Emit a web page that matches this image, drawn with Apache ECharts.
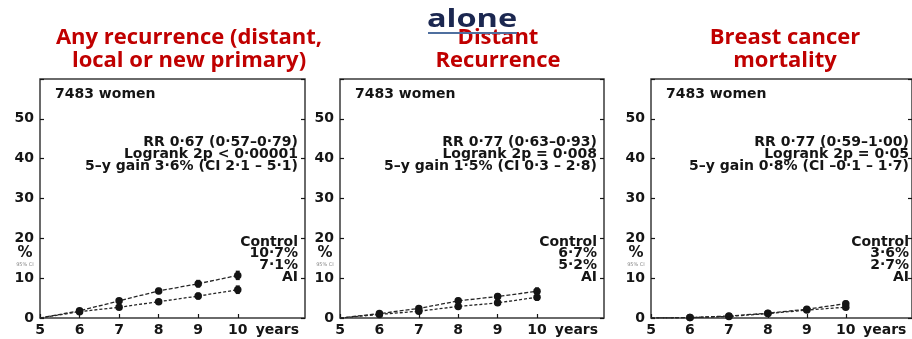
<!DOCTYPE html>
<html>
<head>
<meta charset="utf-8">
<script src="https://cdn.jsdelivr.net/npm/echarts@6/dist/echarts.min.js"></script>
<style>
  html, body { margin: 0; padding: 0; background: #ffffff; }
  #chart { width: 912px; height: 339px; }
</style>
</head>
<body>
<div id="chart"></div>
<script>
// Cumulative risk (%) by year of follow-up, Control vs AI
const years = [5, 6, 7, 8, 9, 10];
const xTickLabels = ['5', '6', '7', '8', '9', '10'];
const yTickLabels = ['0', '10', '20', '30', '40', '50'];

// Any recurrence (distant, local or new primary)
const anyControl     = [0, 1.8, 4.3, 6.8, 8.6, 10.7];
const anyControlLow  = [0, 1.4, 3.8, 6.2, 7.8, 9.7];
const anyControlHigh = [0, 2.2, 4.8, 7.4, 9.4, 11.7];
const anyAI          = [0, 1.6, 2.7, 4.1, 5.5, 7.1];
const anyAILow       = [0, 1.2, 2.2, 3.6, 4.8, 6.2];
const anyAIHigh      = [0, 2.0, 3.2, 4.6, 6.2, 8.0];

// Distant recurrence
const distControl     = [0, 1.1, 2.4, 4.3, 5.4, 6.7];
const distControlLow  = [0, 0.8, 1.9, 3.7, 4.7, 5.9];
const distControlHigh = [0, 1.4, 2.9, 4.9, 6.1, 7.5];
const distAI          = [0, 0.9, 1.7, 2.9, 3.8, 5.2];
const distAILow       = [0, 0.6, 1.3, 2.4, 3.2, 4.5];
const distAIHigh      = [0, 1.2, 2.1, 3.4, 4.4, 5.9];

// Breast cancer mortality
const mortControl     = [0, 0.1, 0.5, 1.2, 2.2, 3.6];
const mortControlLow  = [0, 0.0, 0.3, 0.9, 1.7, 3.0];
const mortControlHigh = [0, 0.2, 0.7, 1.5, 2.7, 4.2];
const mortAI          = [0, 0.1, 0.4, 1.1, 2.0, 2.7];
const mortAILow       = [0, 0.0, 0.2, 0.8, 1.6, 2.2];
const mortAIHigh      = [0, 0.2, 0.6, 1.4, 2.4, 3.2];

const panelTitles = [
  ['Any recurrence (distant,', 'local or new primary)'],
  ['Distant', 'Recurrence'],
  ['Breast cancer', 'mortality']
];
const cohortLabel = '7483 women';
const statLines = [
  ['RR 0·67 (0·57–0·79)', 'Logrank 2p < 0·00001', '5–y gain 3·6% (CI 2·1 – 5·1)'],
  ['RR 0·77 (0·63–0·93)', 'Logrank 2p = 0·008', '5–y gain 1·5% (CI 0·3 – 2·8)'],
  ['RR 0·77 (0·59–1·00)', 'Logrank 2p = 0·05', '5–y gain 0·8% (CI –0·1 – 1·7)']
];
const legendLines = [
  ['Control', '10·7%', '7·1%', 'AI'],
  ['Control', '6·7%', '5·2%', 'AI'],
  ['Control', '3·6%', '2·7%', 'AI']
];

const panels = [
  { c: anyControl, cl: anyControlLow, ch: anyControlHigh, a: anyAI, al: anyAILow, ah: anyAIHigh },
  { c: distControl, cl: distControlLow, ch: distControlHigh, a: distAI, al: distAILow, ah: distAIHigh },
  { c: mortControl, cl: mortControlLow, ch: mortControlHigh, a: mortAI, al: mortAILow, ah: mortAIHigh }
];

// Layout
const grids = [
  { left: 40, top: 79, width: 265, height: 239 },
  { left: 340, top: 79, width: 264, height: 239 },
  { left: 651, top: 79, width: 265, height: 239 }
];
const titleCenters = [189, 498, 785];

const ink = '#151515';
const tickFont = 'DejaVu Sans';
const redTitle = '#c00000';

const xAxes = [], yAxes = [], series = [], graphics = [];

grids.forEach((g, i) => {
  xAxes.push({
    type: 'value', gridIndex: i, min: 5, max: 11.7, interval: 1,
    axisLine: { show: false },
    axisTick: { show: true, inside: true, length: 4, customValues: years, lineStyle: { color: ink, width: 1.2 } },
    splitLine: { show: false },
    axisLabel: {
      customValues: years.concat([11]),
      formatter: v => (v === 11 ? 'years' : xTickLabels[years.indexOf(v)]),
      color: ink, fontFamily: tickFont, fontWeight: 'bold', fontSize: 14, margin: 5
    }
  });
  yAxes.push({
    type: 'value', gridIndex: i, min: 0, max: 60, interval: 10,
    axisLine: { show: false },
    axisTick: { show: true, inside: true, length: 4, lineStyle: { color: ink, width: 1.2 } },
    splitLine: { show: false },
    axisLabel: {
      customValues: [0, 10, 20, 30, 40, 50],
      formatter: v => yTickLabels[v / 10],
      color: ink, fontFamily: tickFont, fontWeight: 'bold', fontSize: 14, margin: 6
    }
  });
});
// mirrored y ticks on the right edge of each panel
grids.forEach((g, i) => {
  yAxes.push({
    type: 'value', gridIndex: i, position: 'right', min: 0, max: 60, interval: 10,
    axisLine: { show: false },
    axisTick: { show: true, inside: true, length: 4, lineStyle: { color: ink, width: 1.2 } },
    axisLabel: { show: false },
    splitLine: { show: false }
  });
});

function lineData(vals) {
  return years.map((yr, k) => (k === 0
    ? { value: [yr, vals[k]], symbol: 'none' }
    : { value: [yr, vals[k]] }));
}
function barData(lo, hi) {
  return years.slice(1).map((yr, k) => [yr, lo[k + 1], hi[k + 1]]);
}
function renderErrorBar(params, api) {
  const x = api.value(0);
  const top = api.coord([x, api.value(2)]);
  const bot = api.coord([x, api.value(1)]);
  const cap = 2;
  const st = { stroke: ink, lineWidth: 1.5 };
  return {
    type: 'group',
    children: [
      { type: 'line', shape: { x1: top[0], y1: top[1], x2: bot[0], y2: bot[1] }, style: st },
      { type: 'line', shape: { x1: top[0] - cap, y1: top[1], x2: top[0] + cap, y2: top[1] }, style: st },
      { type: 'line', shape: { x1: bot[0] - cap, y1: bot[1], x2: bot[0] + cap, y2: bot[1] }, style: st }
    ]
  };
}

panels.forEach((p, i) => {
  [['Control', p.c, p.cl, p.ch, [4, 2]], ['AI', p.a, p.al, p.ah, [3, 2]]].forEach(([name, v, lo, hi, dash]) => {
    series.push({
      name: name, type: 'line', xAxisIndex: i, yAxisIndex: i,
      data: lineData(v), symbol: 'circle', symbolSize: 7.5, showSymbol: true,
      lineStyle: { color: '#262626', width: 1.3, type: dash },
      itemStyle: { color: ink }, z: 3, animation: false
    });
    series.push({
      name: name + ' CI', type: 'custom', xAxisIndex: i, yAxisIndex: i,
      data: barData(lo, hi), renderItem: renderErrorBar, z: 4, animation: false
    });
  });

  const g = grids[i];
  const right = g.left + g.width - 7;
  // panel titles
  panelTitles[i].forEach((t, k) => {
    graphics.push({
      type: 'text', z: 10, x: titleCenters[i], y: k === 0 ? 38 : 61,
      style: {
        text: t, x: 0, y: 0,
        fill: redTitle, font: 'bold 22px "Open Sans"',
        align: 'center', verticalAlign: 'middle'
      }
    });
  });
  graphics.push({
    type: 'text', z: 10,
    style: { text: cohortLabel, x: g.left + 15, y: 94, fill: ink,
      font: 'bold 14px "DejaVu Sans"', align: 'left', verticalAlign: 'middle' }
  });
  statLines[i].forEach((t, k) => {
    graphics.push({
      type: 'text', z: 10,
      style: { text: t, x: right, y: 142 + k * 12, fill: ink,
        font: 'bold 14px "DejaVu Sans"', align: 'right', verticalAlign: 'middle' }
    });
  });
  legendLines[i].forEach((t, k) => {
    graphics.push({
      type: 'text', z: 10,
      style: { text: t, x: right, y: 242 + k * 11.7, fill: ink,
        font: 'bold 14px "DejaVu Sans"', align: 'right', verticalAlign: 'middle' }
    });
  });
  // y-axis unit
  graphics.push({
    type: 'text', z: 10,
    style: { text: '%', x: g.left - 15, y: 253, fill: ink,
      font: 'bold 15px "DejaVu Sans"', align: 'center', verticalAlign: 'middle' }
  });
  graphics.push({
    type: 'text', z: 10,
    style: { text: '95% CI', x: g.left - 15, y: 265, fill: '#888',
      font: '5px "DejaVu Sans"', align: 'center', verticalAlign: 'middle' }
  });
});

// heading word above the middle panel
graphics.push({
  type: 'text', z: 10, x: 472, y: 20, scaleX: 1.3,
  style: { text: 'alone', x: 0, y: 0, fill: '#1b2750',
    font: 'bold 25px "Open Sans"', align: 'center', verticalAlign: 'middle' }
});
graphics.push({
  type: 'line', z: 10,
  shape: { x1: 428, y1: 33, x2: 517, y2: 33 },
  style: { stroke: '#4f6f9f', lineWidth: 2 }
});

const chart = echarts.init(document.getElementById('chart'), null, { renderer: 'canvas' });
chart.setOption({
  backgroundColor: '#ffffff',
  animation: false,
  grid: grids.map(g => Object.assign({ show: true, borderColor: '#3a3a3a', borderWidth: 1.5, backgroundColor: 'transparent' }, g)),
  xAxis: xAxes,
  yAxis: yAxes,
  series: series,
  graphic: graphics
});
</script>
</body>
</html>
